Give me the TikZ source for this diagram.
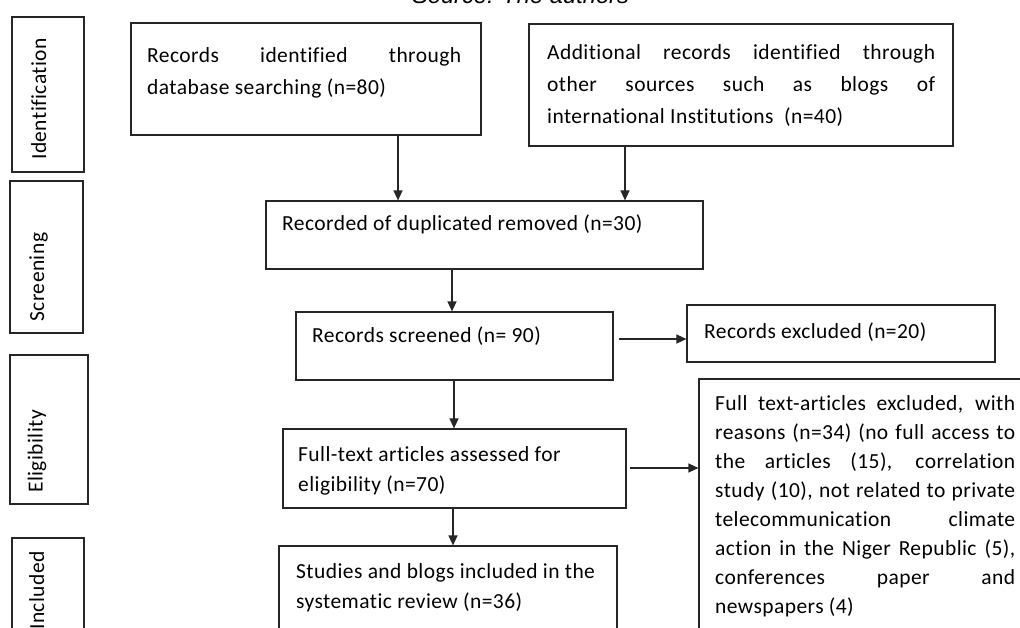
\documentclass[tikz,border=0pt]{standalone}
\usepackage{fontspec}
\setmainfont{Carlito}[LetterSpace=2,Ligatures=NoCommon]
\newfontfamily\srcfont{Liberation Sans}
\usetikzlibrary{arrows.meta}
\hyphenpenalty=10000
\exhyphenpenalty=10000
\tolerance=9999

\begin{document}
\begin{tikzpicture}[x=1pt,y=-1pt,
  box/.style={draw=black!85,line width=1.2pt,inner sep=0pt},
  txt/.style={anchor=north west,inner sep=0pt,align=justify,font=\fontsize{21.5}{30}\selectfont},
  stage/.style={rotate=90,anchor=base west,inner sep=0pt,font=\fontsize{21.5}{26}\selectfont},
  arr/.style={draw=black!85,line width=1.3pt,-{Triangle[length=10pt,width=9pt]}}]
\useasboundingbox (0,0) rectangle (1020,628);

\node[anchor=base,inner sep=0pt,font={\srcfont\itshape\fontsize{23.7}{28}\selectfont}] (src) at (520.5,4) {Source: The authors};

% stage boxes on the left
\node[box,minimum width=72pt,minimum height=155pt] (sident) at (48,94.5) {};
\node[box,minimum width=73pt,minimum height=152pt] (sscreen) at (46.5,257) {};
\node[box,minimum width=78pt,minimum height=149pt] (selig) at (49,429.5) {};
\node[box,minimum width=72pt,minimum height=107pt] (sincl) at (48,591.5) {};
\node[stage] (lident) at (46,160) {Identification};
\node[stage] (lscreen) at (44,321.7) {Screening};
\node[stage] (lelig) at (42.7,493) {Eligibility};
\node[stage] (lincl) at (44,630) {Included};

% flow boxes
\node[box,minimum width=350pt,minimum height=112pt] (recdb) at (306,79) {};
\node[box,minimum width=424pt,minimum height=122pt] (recother) at (741,85) {};
\node[box,minimum width=437pt,minimum height=68pt] (dedup) at (484.5,235) {};
\node[box,minimum width=317pt,minimum height=68pt] (screen) at (454.5,346) {};
\node[box,minimum width=308pt,minimum height=57pt] (excl) at (841,333.5) {};
\node[box,minimum width=343pt,minimum height=79pt] (elig) at (454.5,468.5) {};
\node[box,minimum width=336pt,minimum height=266pt] (reas) at (867,512) {};
\node[box,minimum width=338pt,minimum height=99pt] (incl) at (448,595.5) {};

\node[txt,text width=314pt,font=\fontsize{21.5}{32}\selectfont] (trecdb) at (147,47)
  {Records identified through\linebreak database searching (n=80)};
\node[txt,text width=388pt,font=\fontsize{21.5}{32}\selectfont] (trecother) at (547,44)
  {Additional records identified through\linebreak other sources such as blogs of\linebreak international Institutions~ (n=40)};
\node[txt,align=left] (tdedup) at (282,215) {Recorded of duplicated removed (n=30)};
\node[txt,align=left] (tscreen) at (312,327) {Records screened (n= 90)};
\node[txt,align=left] (texcl) at (704,323) {Records excluded (n=20)};
\node[txt,align=left,font=\fontsize{21.5}{30.7}\selectfont] (telig) at (298,446)
  {Full-text articles assessed for\\eligibility (n=70)};
\node[txt,text width=300pt,font=\fontsize{21.5}{29}\selectfont] (treas) at (715,395)
  {Full text-articles excluded, with\linebreak reasons (n=34) (no full access to\linebreak
   the articles (15), correlation\linebreak study (10), not related to private\linebreak
   telecommunication climate\linebreak action in the Niger Republic (5),\linebreak
   conferences paper and\linebreak newspapers (4)};
\node[txt,align=left,font=\fontsize{21.5}{30.7}\selectfont] (tincl) at (296,563)
  {Studies and blogs included in the\\systematic review (n=36)};

% connectors
\coordinate (a1) at ([xshift=92pt]recdb.south);
\draw[arr] (a1) -- (a1 |- dedup.north);
\coordinate (b1) at ([xshift=-116pt]recother.south);
\draw[arr] (b1) -- (b1 |- dedup.north);
\coordinate (c1) at ([xshift=-32.5pt]dedup.south);
\draw[arr] (c1) -- (c1 |- screen.north);
\coordinate (e1) at ([xshift=-0.5pt]screen.south);
\draw[arr] (e1) -- (e1 |- elig.north);
\coordinate (g1) at ([xshift=-1.5pt]elig.south);
\draw[arr] (g1) -- (g1 |- incl.north);
\coordinate (d1) at ([shift={(5pt,7pt)}]screen.east);
\draw[arr] (d1) -- (d1 -| excl.west);
\coordinate (f1) at ([shift={(3pt,0.5pt)}]elig.east);
\draw[arr] (f1) -- (f1 -| reas.west);
\end{tikzpicture}
\end{document}
